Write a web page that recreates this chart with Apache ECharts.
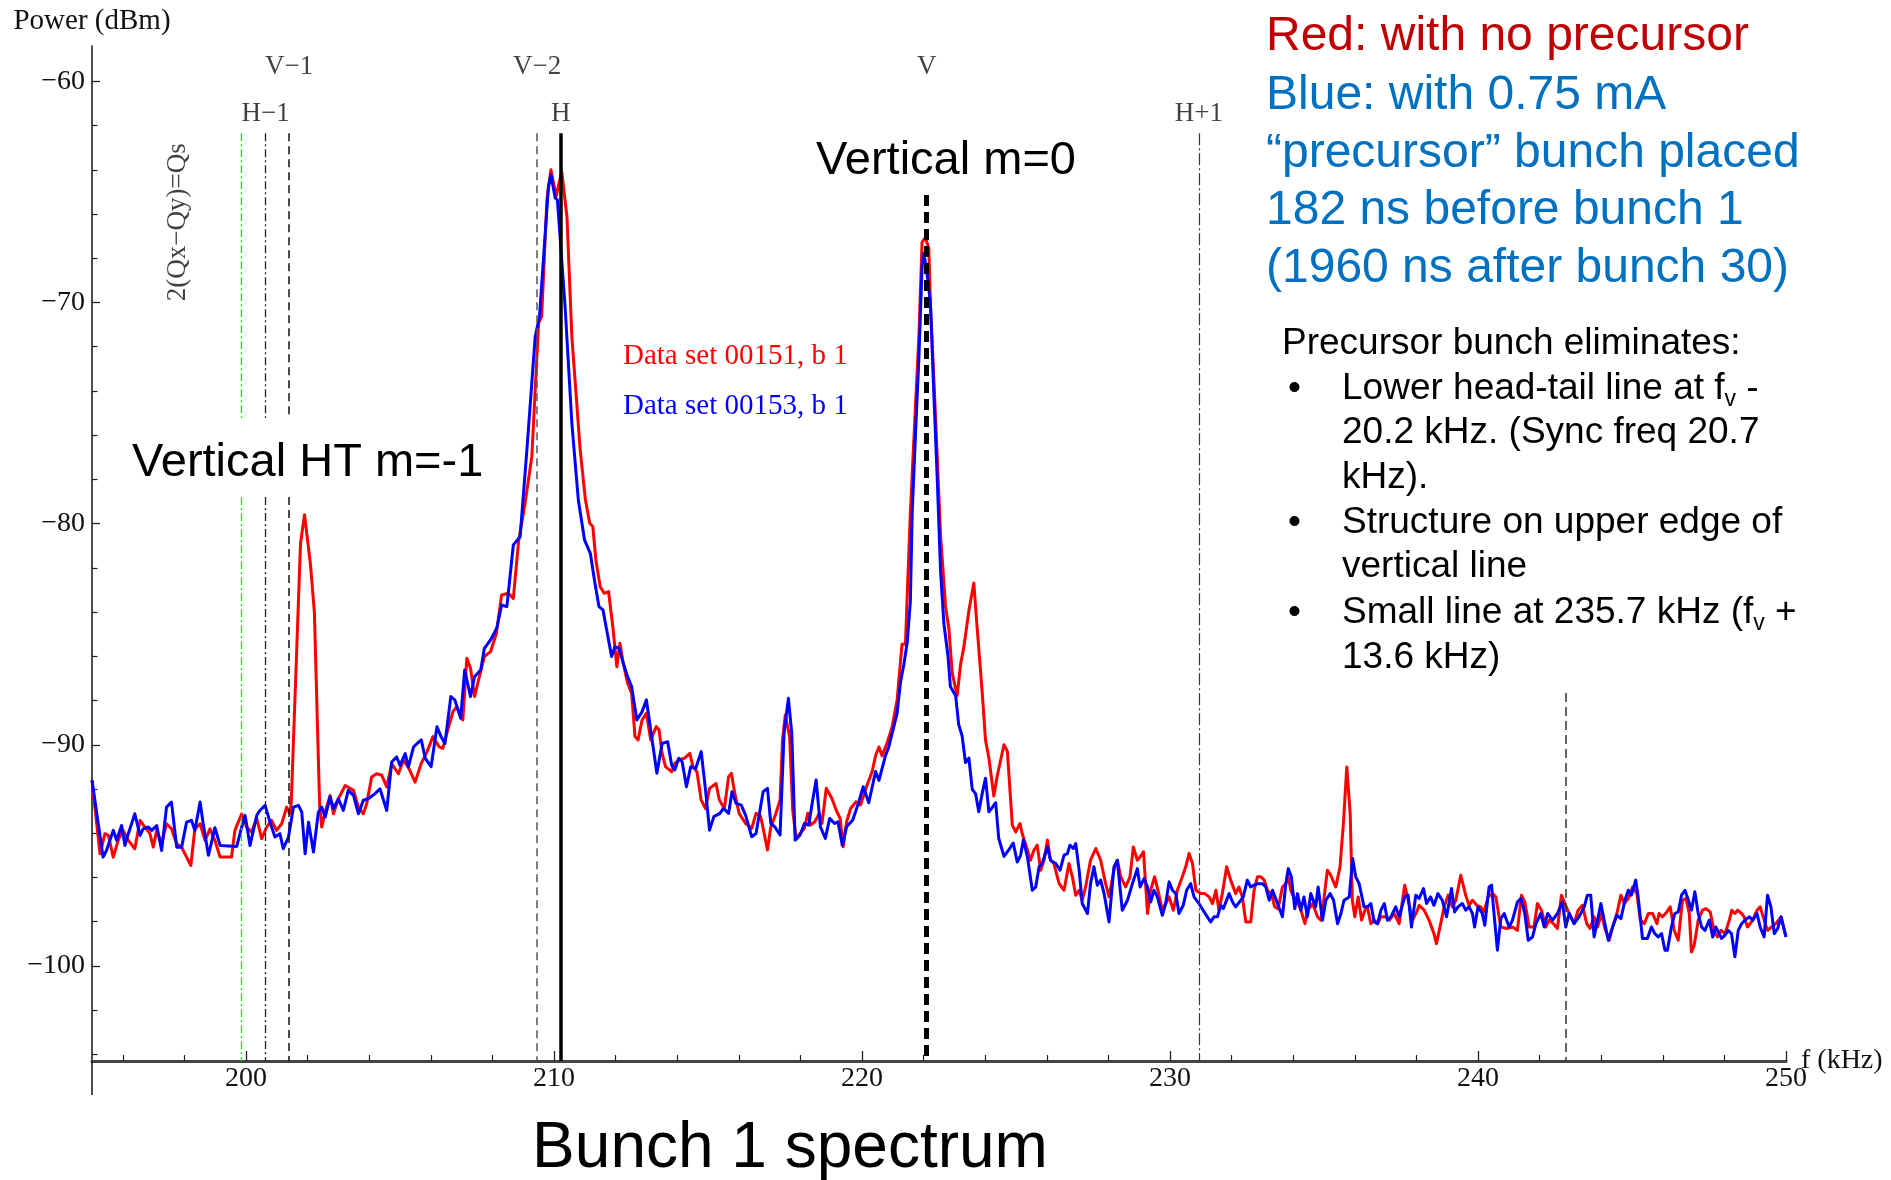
<!DOCTYPE html>
<html><head><meta charset="utf-8">
<script src="https://cdn.jsdelivr.net/npm/echarts@6/dist/echarts.min.js"></script>
<style>html,body{margin:0;padding:0;background:#fff;overflow:hidden}#c{width:1891px;height:1180px}</style>
</head><body><div id="c"></div>
<script>
// ---------- DATA ----------
const redFreq = [195.00,195.26,195.42,195.53,195.69,195.85,196.01,196.18,196.39,196.56,196.72,196.88,196.99,197.10,197.26,197.42,197.58,197.75,197.91,198.07,198.21,198.34,198.51,198.67,198.83,198.99,199.16,199.53,199.64,199.86,200.02,200.18,200.35,200.51,200.67,200.83,200.99,201.16,201.32,201.43,201.47,201.77,201.90,202.09,202.22,202.39,202.46,202.57,202.73,202.84,203.00,203.22,203.49,203.65,203.81,203.92,204.08,204.24,204.41,204.57,204.73,204.95,205.11,205.27,205.49,205.69,205.88,206.07,206.27,206.39,206.52,206.72,206.84,207.04,207.17,207.29,207.42,207.55,207.74,207.94,208.13,208.30,208.52,208.68,208.85,209.06,209.28,209.50,209.60,209.77,209.90,210.07,210.25,210.42,210.58,210.85,211.02,211.16,211.26,211.36,211.50,211.63,211.77,211.91,212.04,212.14,212.25,212.39,212.52,212.63,212.73,212.86,213.00,213.14,213.32,213.41,213.51,213.62,213.82,213.92,214.05,214.23,214.41,214.51,214.64,214.78,214.92,215.05,215.26,215.37,215.53,215.67,215.76,215.87,216.01,216.22,216.42,216.56,216.69,216.76,216.93,217.04,217.17,217.34,217.42,217.51,217.65,217.75,217.86,217.99,218.13,218.24,218.33,218.47,218.61,218.70,218.84,219.02,219.16,219.29,219.39,219.50,219.63,219.80,219.95,220.17,220.33,220.44,220.55,220.65,220.82,220.98,221.14,221.30,221.41,221.57,221.85,221.95,222.06,222.17,222.22,222.39,222.55,222.71,222.82,222.93,223.09,223.20,223.31,223.47,223.63,223.74,223.90,224.01,224.12,224.28,224.39,224.50,224.61,224.72,224.88,224.99,225.13,225.20,225.34,225.47,225.58,225.69,225.80,225.91,226.02,226.12,226.23,226.40,226.56,226.72,226.83,226.94,227.05,227.15,227.26,227.42,227.59,227.75,227.91,228.02,228.18,228.29,228.40,228.56,228.70,228.81,228.94,229.03,229.14,229.27,229.37,229.50,229.61,229.75,229.86,229.97,230.11,230.24,230.40,230.51,230.62,230.73,230.84,231.00,231.13,231.27,231.38,231.49,231.59,231.70,231.84,231.97,232.13,232.24,232.35,232.46,232.62,232.73,232.84,232.95,233.06,233.16,233.29,233.40,233.51,233.65,233.76,233.84,233.92,234.01,234.12,234.25,234.38,234.48,234.63,234.79,234.90,234.98,235.11,235.22,235.38,235.52,235.63,235.74,235.85,235.92,236.00,236.11,236.22,236.33,236.41,236.52,236.63,236.74,236.85,237.01,237.12,237.28,237.44,237.62,237.76,237.87,238.01,238.09,238.25,238.41,238.57,238.65,238.79,238.90,239.03,239.17,239.28,239.44,239.60,239.71,239.82,239.96,240.09,240.20,240.33,240.47,240.58,240.74,240.93,241.12,241.28,241.41,241.52,241.66,241.82,241.93,242.06,242.20,242.31,242.45,242.58,242.71,242.82,242.96,243.12,243.25,243.39,243.53,243.64,243.77,243.88,244.01,244.12,244.26,244.37,244.51,244.64,244.75,244.88,245.02,245.16,245.27,245.40,245.53,245.67,245.81,245.88,245.99,246.13,246.24,246.37,246.50,246.64,246.75,246.86,246.93,247.02,247.15,247.29,247.40,247.54,247.67,247.78,247.89,248.02,248.16,248.24,248.34,248.43,248.56,248.64,248.75,248.92,249.06,249.16,249.29,249.40,249.53,249.67,249.84,250.00];
const redPower = [-91.6,-94.93,-94.02,-94.10,-95.08,-94.32,-93.87,-94.32,-94.70,-93.42,-93.72,-94.02,-94.63,-93.87,-94.48,-93.57,-93.80,-94.48,-94.63,-95.08,-95.46,-93.80,-93.57,-94.32,-93.80,-94.32,-95.08,-95.08,-93.87,-93.12,-93.72,-93.95,-93.34,-94.25,-93.72,-93.42,-93.87,-93.57,-92.82,-93.12,-92.6,-80.9,-79.6,-81.8,-84.0,-92.7,-93.72,-93.04,-92.29,-93.12,-92.44,-91.84,-92.06,-92.82,-93.12,-92.66,-91.46,-91.31,-91.38,-91.91,-90.86,-91.31,-90.70,-91.01,-91.69,-90.84,-90.31,-89.63,-90.09,-90.16,-89.48,-88.50,-88.28,-88.88,-86.09,-86.54,-87.82,-87.07,-86.01,-85.79,-84.96,-83.23,-83.15,-83.38,-80.81,-79.08,-76.97,-70.93,-70.63,-65.35,-64.00,-65.20,-64.07,-66.11,-71.54,-76.66,-78.92,-79.98,-80.13,-81.64,-82.85,-83.15,-83.07,-84.66,-86.47,-85.41,-86.32,-87.22,-87.67,-89.63,-89.78,-88.88,-88.58,-89.78,-89.18,-89.33,-90.39,-90.99,-91.22,-90.84,-90.69,-90.61,-90.39,-90.99,-91.22,-92.50,-92.88,-91.97,-91.75,-92.50,-92.88,-91.44,-91.29,-92.20,-93.10,-93.56,-93.78,-93.10,-93.18,-93.56,-94.76,-93.71,-93.25,-92.50,-89.78,-88.65,-89.63,-92.95,-94.23,-94.01,-93.78,-93.10,-93.63,-93.48,-93.10,-93.56,-91.97,-92.42,-92.95,-93.33,-94.61,-93.48,-92.88,-92.58,-92.72,-91.81,-91.21,-90.50,-90.10,-90.50,-89.90,-89.19,-87.98,-85.45,-85.45,-79.49,-71.41,-67.27,-67.07,-67.57,-69.99,-75.25,-80.50,-83.73,-84.74,-86.77,-87.78,-86.36,-85.55,-83.94,-82.68,-84.74,-87.57,-89.79,-90.60,-92.32,-91.41,-90.70,-90.00,-90.30,-93.63,-93.94,-93.56,-94.01,-94.62,-95.22,-94.77,-94.54,-95.67,-95.22,-94.31,-95.22,-95.37,-96.28,-96.58,-95.37,-95.97,-96.80,-96.58,-97.03,-96.43,-95.22,-94.69,-95.22,-96.28,-96.88,-95.67,-95.22,-95.97,-96.43,-95.97,-94.62,-95.22,-95.07,-94.84,-97.63,-96.58,-95.97,-96.58,-97.48,-97.18,-96.88,-97.48,-96.58,-95.97,-95.52,-94.92,-95.37,-96.58,-96.73,-96.73,-96.88,-97.18,-96.58,-97.48,-96.73,-95.52,-96.12,-96.73,-96.43,-96.88,-98.01,-98.01,-96.58,-95.97,-95.97,-96.12,-96.58,-96.73,-97.33,-97.41,-96.43,-96.28,-95.97,-96.58,-96.88,-97.03,-97.48,-98.09,-97.48,-97.18,-97.78,-97.93,-97.18,-95.67,-95.90,-96.43,-95.52,-93.56,-91.00,-93.11,-97.03,-97.78,-96.88,-97.93,-97.48,-97.33,-98.09,-97.93,-98.09,-97.78,-97.78,-97.93,-97.63,-98.09,-96.35,-97.18,-97.93,-97.56,-97.26,-97.48,-97.93,-98.54,-98.99,-98.09,-97.33,-96.80,-97.33,-97.03,-95.90,-96.80,-97.26,-97.03,-97.26,-97.33,-97.56,-96.88,-96.73,-96.88,-98.24,-98.31,-98.24,-98.39,-96.80,-97.11,-98.24,-98.24,-97.18,-97.48,-98.24,-97.93,-98.09,-98.31,-96.80,-97.18,-97.63,-98.09,-97.48,-97.26,-98.09,-98.31,-97.78,-98.24,-97.63,-98.31,-98.84,-98.24,-97.63,-96.80,-97.18,-96.95,-96.43,-96.73,-97.93,-98.09,-97.63,-97.63,-98.09,-97.63,-97.78,-97.56,-97.33,-98.39,-98.84,-97.03,-96.95,-97.63,-99.37,-99.07,-97.93,-97.48,-97.41,-97.56,-98.46,-98.69,-98.39,-98.54,-97.93,-97.48,-97.63,-97.48,-97.63,-97.78,-98.24,-97.93,-97.48,-97.33,-97.93,-98.39,-98.24,-98.09,-97.78,-98.69];

const blueFreq = [195.00,195.36,195.47,195.69,195.80,195.96,196.07,196.18,196.39,196.56,196.66,196.83,196.94,197.10,197.26,197.42,197.58,197.75,197.91,198.07,198.23,198.34,198.51,198.61,198.78,198.99,199.16,199.70,199.86,199.97,200.13,200.35,200.45,200.62,200.78,200.94,201.10,201.21,201.38,201.54,201.70,201.81,201.92,202.03,202.19,202.35,202.46,202.57,202.73,202.84,203.00,203.16,203.32,203.49,203.65,203.81,203.97,204.19,204.35,204.57,204.73,204.89,205.00,205.17,205.27,205.44,205.56,205.69,205.82,206.01,206.20,206.33,206.46,206.65,206.78,206.97,207.10,207.29,207.42,207.62,207.74,207.94,208.14,208.30,208.47,208.68,208.90,209.12,209.39,209.53,209.82,209.90,210.04,210.11,210.36,210.58,210.79,210.99,211.18,211.32,211.46,211.59,211.73,211.87,211.98,212.11,212.25,212.39,212.52,212.69,212.86,213.00,213.14,213.34,213.51,213.69,213.82,213.92,214.05,214.16,214.30,214.44,214.60,214.78,214.92,215.05,215.19,215.39,215.50,215.67,215.78,215.91,216.08,216.22,216.42,216.56,216.79,216.93,217.04,217.17,217.34,217.47,217.61,217.72,217.83,217.99,218.13,218.27,218.40,218.51,218.65,218.81,218.95,219.11,219.22,219.36,219.50,219.70,219.88,220.04,220.22,220.44,220.55,220.76,220.87,221.03,221.14,221.25,221.36,221.47,221.57,221.63,221.74,221.85,221.95,222.01,222.12,222.22,222.33,222.44,222.55,222.66,222.79,222.87,223.04,223.14,223.25,223.36,223.47,223.58,223.69,223.79,223.90,224.01,224.12,224.23,224.34,224.44,224.61,224.77,224.91,225.04,225.15,225.24,225.37,225.53,225.64,225.75,225.85,226.02,226.12,226.29,226.43,226.56,226.67,226.75,226.86,226.94,227.05,227.15,227.32,227.42,227.53,227.64,227.75,227.86,228.02,228.18,228.29,228.45,228.62,228.78,228.94,229.03,229.16,229.27,229.37,229.48,229.59,229.75,229.86,229.97,230.08,230.19,230.29,230.43,230.54,230.67,230.78,230.94,231.11,231.32,231.43,231.54,231.65,231.73,231.92,232.03,232.13,232.30,232.38,232.51,232.62,232.73,232.84,233.00,233.11,233.22,233.33,233.49,233.65,233.76,233.84,233.94,234.05,234.14,234.25,234.35,234.46,234.57,234.73,234.81,234.95,235.06,235.20,235.31,235.44,235.55,235.65,235.82,235.93,236.03,236.14,236.30,236.41,236.52,236.63,236.74,236.85,236.96,237.06,237.17,237.33,237.44,237.62,237.73,237.84,237.98,238.09,238.23,238.33,238.46,238.57,238.70,238.84,238.98,239.14,239.24,239.35,239.49,239.60,239.71,239.82,239.89,240.00,240.14,240.22,240.36,240.44,240.52,240.63,240.74,240.85,241.01,241.12,241.28,241.39,241.52,241.63,241.77,241.88,242.04,242.15,242.26,242.42,242.58,242.74,242.85,242.96,243.12,243.28,243.45,243.55,243.66,243.77,243.88,243.99,244.12,244.23,244.37,244.51,244.64,244.77,244.88,244.98,245.12,245.20,245.34,245.50,245.63,245.74,245.85,245.96,246.07,246.15,246.28,246.39,246.50,246.61,246.72,246.83,246.93,247.04,247.15,247.26,247.37,247.51,247.62,247.72,247.83,247.91,248.02,248.12,248.23,248.34,248.45,248.56,248.67,248.81,248.92,249.06,249.16,249.29,249.40,249.51,249.62,249.73,249.84,250.00];
const bluePower = [-91.6,-95.08,-94.78,-93.87,-94.32,-93.65,-94.55,-94.02,-93.12,-94.10,-93.80,-93.72,-93.87,-93.65,-94.78,-92.82,-92.59,-94.63,-94.63,-93.50,-93.42,-93.87,-92.59,-93.57,-95.00,-93.75,-94.55,-94.60,-93.72,-93.19,-94.55,-93.19,-92.97,-92.74,-93.50,-94.17,-94.02,-94.70,-94.17,-92.82,-92.74,-93.04,-94.93,-93.50,-94.85,-93.04,-92.82,-93.27,-92.36,-92.89,-92.44,-92.97,-92.06,-92.29,-93.12,-92.51,-92.44,-92.21,-91.99,-92.97,-90.78,-90.55,-90.93,-90.40,-91.01,-90.10,-89.94,-89.78,-90.61,-90.99,-89.18,-89.63,-89.94,-87.82,-87.97,-88.80,-86.62,-87.82,-86.92,-86.62,-85.64,-85.26,-84.73,-83.68,-83.75,-80.96,-80.59,-76.66,-71.54,-70.63,-64.75,-64.22,-65.28,-65.35,-70.18,-75.46,-78.93,-80.73,-81.34,-82.62,-83.75,-83.90,-84.96,-86.01,-85.56,-85.64,-86.32,-86.92,-87.37,-88.88,-88.50,-87.97,-89.33,-91.29,-89.94,-89.86,-90.92,-91.14,-90.61,-90.77,-91.90,-90.99,-91.07,-90.31,-92.05,-93.86,-93.25,-93.10,-92.88,-93.10,-92.12,-92.65,-92.73,-93.18,-94.16,-94.01,-92.12,-91.97,-93.56,-93.71,-94.08,-89.48,-87.90,-89.48,-94.31,-94.08,-93.56,-93.63,-92.50,-91.59,-93.71,-94.23,-93.33,-93.56,-93.48,-94.54,-93.71,-93.40,-92.65,-91.90,-92.62,-91.21,-91.61,-90.50,-90.10,-89.19,-88.58,-87.17,-86.36,-85.35,-83.53,-79.49,-75.85,-72.42,-68.38,-67.77,-68.78,-69.99,-74.04,-77.88,-82.12,-84.54,-85.96,-87.37,-87.78,-89.09,-89.59,-90.80,-90.60,-92.02,-92.22,-93.03,-92.22,-91.51,-93.03,-92.83,-92.62,-94.24,-95.05,-94.74,-94.44,-95.30,-95.00,-94.31,-95.07,-96.58,-96.43,-95.52,-95.37,-94.62,-95.22,-95.37,-95.67,-94.99,-94.92,-94.54,-94.69,-94.47,-95.67,-97.18,-97.63,-96.28,-95.52,-96.35,-96.12,-96.73,-98.01,-95.52,-95.22,-97.48,-97.03,-96.28,-95.60,-96.43,-96.05,-96.43,-97.11,-96.58,-96.88,-97.71,-97.18,-96.20,-96.58,-96.73,-97.63,-97.26,-96.58,-96.28,-96.88,-97.18,-97.56,-98.01,-97.78,-97.78,-97.26,-97.41,-96.73,-97.11,-97.33,-97.03,-96.88,-96.12,-96.43,-96.35,-96.28,-96.28,-96.43,-97.03,-96.58,-97.18,-97.78,-96.28,-95.60,-95.97,-97.41,-96.73,-97.48,-96.88,-97.78,-96.73,-97.33,-96.43,-97.93,-97.03,-96.73,-97.03,-98.09,-97.63,-97.03,-96.88,-95.14,-95.97,-96.28,-97.33,-97.33,-97.18,-98.01,-98.09,-97.48,-97.18,-97.93,-97.78,-97.33,-97.78,-96.88,-96.80,-98.24,-96.80,-96.95,-96.50,-97.18,-96.88,-97.26,-96.73,-97.03,-97.78,-96.50,-97.56,-97.33,-97.18,-97.48,-97.33,-97.63,-98.24,-97.33,-97.63,-98.16,-96.43,-96.35,-97.63,-99.29,-97.86,-97.63,-98.24,-97.93,-97.11,-96.95,-97.63,-98.84,-98.69,-98.09,-97.63,-98.24,-97.63,-97.93,-97.63,-97.11,-98.24,-97.63,-98.09,-97.78,-97.33,-96.80,-96.80,-98.69,-97.93,-97.18,-98.09,-98.84,-98.24,-97.71,-97.86,-97.03,-96.58,-96.80,-96.12,-96.88,-98.76,-98.76,-98.24,-98.54,-98.69,-98.54,-99.29,-99.29,-98.24,-97.63,-97.56,-96.80,-96.58,-97.03,-97.48,-96.65,-97.63,-98.24,-98.39,-97.93,-98.69,-98.24,-98.54,-98.76,-98.61,-98.39,-98.54,-99.59,-98.39,-98.09,-97.93,-97.78,-97.93,-97.63,-98.24,-98.69,-96.80,-97.33,-98.54,-98.31,-97.78,-98.69];

const xMajorTicks = [200, 210, 220, 230, 240, 250];
const xMinorTicks = [196, 198, 202, 204, 206, 208, 212, 214, 216, 218, 222, 224, 226, 228, 232, 234, 236, 238, 242, 244, 246, 248];
const yMajorTicks = [-100, -90, -80, -70, -60];
const yMinorTicks = [-104, -102, -98, -96, -94, -92, -88, -86, -84, -82, -78, -76, -74, -72, -68, -66, -64, -62];

// reference frequency lines (kHz)
const refLineNames = ['2(Qx-Qy)=Qs', 'H-1', 'V-1', 'V-2', 'H', 'V', 'H+1', 'extra'];
const refLineFreq  = [199.84, 200.64, 201.40, 209.45, 210.22, 222.10, 230.94, 242.85];
const refLineTop   = [-62.35, -62.35, -62.35, -62.35, -62.35, -65.14, -62.35, -87.66];

// labels of the reference lines
const lineLabelText  = ['V\u22121', 'H\u22121', 'V\u22122', 'H', 'V', 'H+1', '2(Qx\u2212Qy)=Qs'];
const lineLabelFreq  = [201.40, 200.64, 209.45, 210.22, 222.10, 230.94, 197.79];
const lineLabelPower = [-59.33, -61.45, -59.33, -61.45, -59.33, -61.45, -66.37];

// ---------- CHART ----------
const X_MIN = 195, X_MAX = 250, Y_MIN = -104.3, Y_MAX = -58.4;
const SERIF = '"Liberation Serif", "DejaVu Serif", serif';
const SANS = '"Liberation Sans", Arial, sans-serif';

const zip = (a, b) => a.map((v, i) => [v, b[i]]);

const refStyles = [
  {color: '#22dd22', width: 1.3, type: [8, 3, 2, 3]},
  {color: '#222', width: 1.3, type: [8, 3, 2, 3]},
  {color: '#111', width: 1.5, type: [8, 5]},
  {color: '#555', width: 1.5, type: [8, 5]},
  {color: '#000', width: 3.5, type: 'solid'},
  {color: '#000', width: 5, type: [11, 6]},
  {color: '#333', width: 1.2, type: [12, 3, 2, 3]},
  {color: '#333', width: 1.5, type: [9, 5]}
];
// gap left by the "Vertical HT m=-1" text box (first three lines)
const GAP_TOP = -75.22, GAP_BOTTOM = -78.79;
const markLineData = [];
refLineFreq.forEach((f, i) => {
  const st = refStyles[i];
  if (i < 3) {
    markLineData.push([{coord: [f, refLineTop[i]], lineStyle: st}, {coord: [f, GAP_TOP]}]);
    markLineData.push([{coord: [f, GAP_BOTTOM], lineStyle: st}, {coord: [f, Y_MIN]}]);
  } else {
    markLineData.push([{coord: [f, refLineTop[i]], lineStyle: st}, {coord: [f, Y_MIN]}]);
  }
});

const labelData = lineLabelText.map((t, i) => ({
  value: [lineLabelFreq[i], lineLabelPower[i]],
  name: t,
  label: i === 6 ? {rotate: 90} : {}
}));

function txt(x, y, text, size, color, align, family, extra) {
  return {
    type: 'text', x: x, y: y, z: 50,
    style: Object.assign({
      text: text, fontSize: size, fontFamily: family || SANS, fill: color || '#000',
      align: align || 'left', verticalAlign: 'middle'
    }, extra || {})
  };
}
const subRich = {sub: {fontSize: 23, lineHeight: 12, verticalAlign: 'bottom', fontFamily: SANS, fill: '#000'}};

const chart = echarts.init(document.getElementById('c'), null, {renderer: 'canvas'});
chart.setOption({
  animation: false,
  backgroundColor: '#fff',
  grid: {left: 92, right: 105, top: 46, bottom: 119, containLabel: false, outerBoundsMode: 'none'},
  xAxis: [{
    type: 'value', min: X_MIN, max: X_MAX, position: 'bottom',
    name: 'f (kHz)', nameLocation: 'end', nameGap: 15, nameMoveOverlap: false,
    nameTextStyle: {fontFamily: SERIF, fontSize: 28, color: '#111', verticalAlign: 'middle'},
    axisLine: {show: true, lineStyle: {color: '#444', width: 3}},
    axisTick: {show: true, inside: true, length: 10, customValues: xMajorTicks, lineStyle: {color: '#222', width: 1.3}},
    axisLabel: {show: true, customValues: xMajorTicks, margin: 4, fontFamily: SERIF, fontSize: 28, color: '#111'},
    splitLine: {show: false}
  }, {
    type: 'value', min: X_MIN, max: X_MAX, position: 'bottom',
    axisLine: {show: false},
    axisTick: {show: true, inside: true, length: 6, customValues: xMinorTicks, lineStyle: {color: '#222', width: 1.2}},
    axisLabel: {show: false}, splitLine: {show: false}
  }],
  yAxis: [{
    type: 'value', min: Y_MIN, max: Y_MAX, position: 'left',
    name: 'Power (dBm)', nameLocation: 'end', nameGap: 10, nameMoveOverlap: false,
    nameTextStyle: {fontFamily: SERIF, fontSize: 29, color: '#111', align: 'center'},
    axisLine: {show: true, lineStyle: {color: '#111', width: 1.5}},
    axisTick: {show: true, inside: true, length: 8, customValues: yMajorTicks, lineStyle: {color: '#222', width: 1.3}},
    axisLabel: {show: true, customValues: yMajorTicks, margin: 7, fontFamily: SERIF, fontSize: 28, color: '#111',
      formatter: v => '\u2212' + Math.abs(v)},
    splitLine: {show: false}
  }, {
    type: 'value', min: Y_MIN, max: Y_MAX, position: 'left',
    axisLine: {show: false},
    axisTick: {show: true, inside: true, length: 5.5, customValues: yMinorTicks, lineStyle: {color: '#222', width: 1.2}},
    axisLabel: {show: false}, splitLine: {show: false}
  }],
  series: [{
    name: 'Data set 00151, b 1', type: 'line', data: zip(redFreq, redPower),
    showSymbol: false, symbol: 'none', z: 2,
    lineStyle: {color: '#ff0000', width: 3, join: 'round'}
  }, {
    name: 'Data set 00153, b 1', type: 'line', data: zip(blueFreq, bluePower),
    showSymbol: false, symbol: 'none', z: 3,
    lineStyle: {color: '#0000ff', width: 3, join: 'round'}
  }, {
    name: 'refLines', type: 'line', data: [], z: 4, silent: true,
    markLine: {silent: true, symbol: ['none', 'none'], label: {show: false}, animation: false, data: markLineData}
  }, {
    name: 'lineLabels', type: 'scatter', data: labelData, z: 5, silent: true,
    symbolSize: 1, itemStyle: {color: 'rgba(0,0,0,0)'},
    label: {show: true, position: 'inside', formatter: '{b}', fontFamily: SERIF, fontSize: 27, color: '#111'}
  }],
  graphic: [
    {type: 'line', z: 10, shape: {x1: 92, y1: 1061, x2: 92, y2: 1095}, style: {stroke: '#111', lineWidth: 1.5}},
    txt(623, 356, 'Data set 00151, b 1', 29, '#ff0000', 'left', SERIF),
    txt(623, 406, 'Data set 00153, b 1', 29, '#0000ff', 'left', SERIF),
    txt(132, 463, 'Vertical HT m=-1', 47, '#000', 'left'),
    txt(946, 161, 'Vertical m=0', 47, '#000', 'center'),
    txt(790, 1149, 'Bunch 1 spectrum', 64, '#000', 'center'),
    txt(1266, 37, 'Red: with no precursor', 48, '#c00000', 'left'),
    txt(1266, 96, 'Blue: with 0.75 mA', 48, '#0070c0', 'left'),
    txt(1266, 154, '\u201Cprecursor\u201D bunch placed', 48, '#0070c0', 'left'),
    txt(1266, 211, '182 ns before bunch 1', 48, '#0070c0', 'left'),
    txt(1266, 269, '(1960 ns after bunch 30)', 48, '#0070c0', 'left'),
    txt(1282, 344, 'Precursor bunch eliminates:', 37, '#000', 'left'),
    txt(1288, 389, '\u2022', 37, '#000', 'left'),
    txt(1288, 523, '\u2022', 37, '#000', 'left'),
    txt(1288, 613, '\u2022', 37, '#000', 'left'),
    txt(1342, 389, 'Lower head-tail line at f{sub|v} -', 37, '#000', 'left', SANS, {rich: subRich, lineHeight: 44}),
    txt(1342, 433, '20.2 kHz. (Sync freq 20.7', 37, '#000', 'left'),
    txt(1342, 478, 'kHz).', 37, '#000', 'left'),
    txt(1342, 523, 'Structure on upper edge of', 37, '#000', 'left'),
    txt(1342, 567, 'vertical line', 37, '#000', 'left'),
    txt(1342, 613, 'Small line at 235.7 kHz (f{sub|v} +', 37, '#000', 'left', SANS, {rich: subRich, lineHeight: 44}),
    txt(1342, 658, '13.6 kHz)', 37, '#000', 'left')
  ]
});
</script>
</body></html>
